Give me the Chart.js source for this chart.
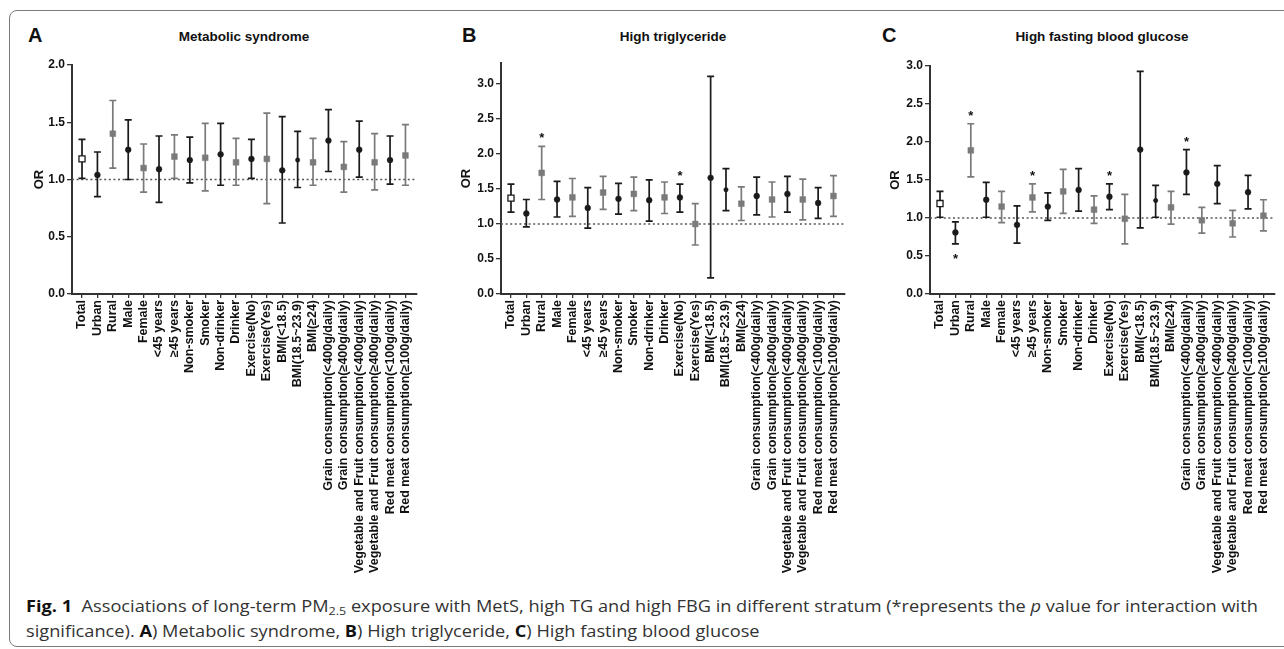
<!DOCTYPE html>
<html>
<head>
<meta charset="utf-8">
<script src="https://cdn.jsdelivr.net/npm/chart.js@4.4.0/dist/chart.umd.min.js"></script>
<style>
body{margin:0;width:1284px;height:649px;background:#fff;overflow:hidden;position:relative;font-family:"Liberation Sans",Arial,sans-serif}
.frame{position:absolute;left:9px;top:10px;width:1300px;height:637px;border:1.5px solid #7a7a7a;border-radius:8px;box-sizing:border-box}
.letter{position:absolute;font-weight:bold;font-size:20px;line-height:20px;color:#111}
.ptitle{position:absolute;width:300px;font-weight:bold;font-size:13.5px;line-height:14px;color:#111;text-align:center}
canvas{position:absolute}
.caption{position:absolute;left:26px;top:596px;font-family:"Open Sans",sans-serif;font-size:16px;line-height:20px;color:#333;white-space:nowrap;transform:scaleX(1.137);transform-origin:0 0}
.caption b{color:#111}
</style>
</head>
<body>
<div class="frame"></div>

<div class="letter" style="left:28px;top:25px">A</div>
<div class="ptitle" style="left:94px;top:30px">Metabolic syndrome</div>
<div class="letter" style="left:462px;top:25px">B</div>
<div class="ptitle" style="left:523px;top:30px">High triglyceride</div>
<div class="letter" style="left:882px;top:25px">C</div>
<div class="ptitle" style="left:952px;top:30px">High fasting blood glucose</div>

<canvas id="chartA" width="397" height="529" style="left:28px;top:55px"></canvas>
<canvas id="chartB" width="398" height="531" style="left:455px;top:53px"></canvas>
<canvas id="chartC" width="399" height="528" style="left:884px;top:56px"></canvas>

<div class="caption"><b>Fig. 1</b>&nbsp; Associations of long-term PM<sub style="font-size:11px;vertical-align:-3px">2.5</sub> exposure with MetS, high TG and high FBG in different stratum (*represents the <i>p</i> value for interaction with<br>significance). <b>A</b>) Metabolic syndrome, <b>B</b>) High triglyceride, <b>C</b>) High fasting blood glucose</div>

<script>
// strata (same for all three panels)
const labels = ["Total", "Urban", "Rural", "Male", "Female", "<45 years", "≥45 years",
    "Non-smoker", "Smoker", "Non-drinker", "Drinker", "Exercise(No)", "Exercise(Yes)",
    "BMI(<18.5)", "BMI(18.5~23.9)", "BMI(≥24)",
    "Grain consumption(<400g/daily)", "Grain consumption(≥400g/daily)",
    "Vegetable and Fruit consumption(<400g/daily)", "Vegetable and Fruit consumption(≥400g/daily)",
    "Red meat consumption(<100g/daily)", "Red meat consumption(≥100g/daily)"];

// A) Metabolic syndrome
const orA   = [1.18, 1.04, 1.40, 1.26, 1.10, 1.09, 1.20, 1.17, 1.19, 1.22, 1.15, 1.18, 1.18, 1.08, 1.17, 1.15, 1.34, 1.11, 1.26, 1.15, 1.17, 1.21];
const lowA  = [1.01, 0.85, 1.10, 1.00, 0.89, 0.80, 1.01, 0.97, 0.90, 0.95, 0.95, 1.01, 0.79, 0.62, 0.93, 0.95, 1.07, 0.89, 1.02, 0.91, 0.96, 0.95];
const highA = [1.35, 1.24, 1.69, 1.52, 1.31, 1.38, 1.39, 1.37, 1.49, 1.49, 1.36, 1.35, 1.58, 1.55, 1.42, 1.36, 1.61, 1.33, 1.51, 1.40, 1.38, 1.48];
const starA = [];

// B) High triglyceride
const orB   = [1.37, 1.15, 1.73, 1.35, 1.38, 1.23, 1.45, 1.36, 1.43, 1.34, 1.38, 1.38, 1.00, 1.66, 1.49, 1.29, 1.40, 1.35, 1.43, 1.35, 1.30, 1.40];
const lowB  = [1.17, 0.96, 1.35, 1.10, 1.11, 0.94, 1.21, 1.14, 1.19, 1.04, 1.15, 1.17, 0.70, 0.23, 1.19, 1.05, 1.13, 1.10, 1.17, 1.06, 1.08, 1.11];
const highB = [1.57, 1.35, 2.11, 1.61, 1.65, 1.52, 1.68, 1.58, 1.67, 1.63, 1.60, 1.57, 1.29, 3.11, 1.79, 1.53, 1.67, 1.60, 1.68, 1.64, 1.52, 1.69];
const starB = [{i: 2, side: "up"}, {i: 11, side: "up"}];

// C) High fasting blood glucose
const orC   = [1.19, 0.81, 1.89, 1.24, 1.15, 0.91, 1.27, 1.15, 1.35, 1.37, 1.11, 1.28, 0.99, 1.90, 1.23, 1.14, 1.60, 0.97, 1.45, 0.93, 1.34, 1.03];
const lowC  = [1.01, 0.66, 1.54, 1.01, 0.94, 0.67, 1.08, 0.97, 1.06, 1.09, 0.93, 1.11, 0.66, 0.87, 1.01, 0.92, 1.31, 0.80, 1.19, 0.75, 1.12, 0.83];
const highC = [1.35, 0.95, 2.24, 1.47, 1.35, 1.16, 1.45, 1.33, 1.64, 1.65, 1.29, 1.45, 1.31, 2.93, 1.43, 1.35, 1.90, 1.14, 1.69, 1.10, 1.56, 1.24];
const starC = [{i: 1, side: "down"}, {i: 2, side: "up"}, {i: 6, side: "up"}, {i: 11, side: "up"}, {i: 16, side: "up"}];

const yTicksA = [0, 0.5, 1.0, 1.5, 2.0];
const yTicksB = [0, 0.5, 1.0, 1.5, 2.0, 2.5, 3.0];
const yTicksC = [0, 0.5, 1.0, 1.5, 2.0, 2.5, 3.0];

// marker look per stratum: open square for total, black dots and grey squares alternate
const markerKinds = ["open", "dot", "sq", "dot", "sq", "dot", "sq", "dot", "sq", "dot", "sq", "dot", "sq",
    "dot", "small", "sq", "dot", "sq", "dot", "sq", "dot", "sq"];
const black = "#1a1a1a";
const grey = "#7a7a7a";
const font = "'Liberation Sans', Arial, sans-serif";

const errorBars = {
    id: "errorBars",
    beforeDatasetsDraw(chart, args, opts) {
        const ctx = chart.ctx;
        const area = chart.chartArea;
        const x = chart.scales.x, y = chart.scales.y;
        ctx.save();
        // reference line at OR = 1
        const y1 = y.getPixelForValue(1);
        ctx.strokeStyle = "#555";
        ctx.lineWidth = 1.4;
        ctx.setLineDash([2, 2.6]);
        ctx.beginPath();
        ctx.moveTo(area.left, y1);
        ctx.lineTo(area.right, y1);
        ctx.stroke();
        ctx.setLineDash([]);
        opts.low.forEach((lo, i) => {
            const px = x.getPixelForValue(i);
            const yl = y.getPixelForValue(lo);
            const yh = y.getPixelForValue(opts.high[i]);
            ctx.strokeStyle = markerKinds[i] == "sq" ? grey : black;
            ctx.lineWidth = 1.7;
            ctx.beginPath();
            ctx.moveTo(px, yl); ctx.lineTo(px, yh);
            ctx.moveTo(px - 3.5, yl); ctx.lineTo(px + 3.5, yl);
            ctx.moveTo(px - 3.5, yh); ctx.lineTo(px + 3.5, yh);
            ctx.stroke();
        });
        ctx.restore();
    },
    afterDatasetsDraw(chart, args, opts) {
        const ctx = chart.ctx;
        const x = chart.scales.x, y = chart.scales.y;
        ctx.save();
        ctx.fillStyle = "#111";
        ctx.font = "bold 13px " + font;
        ctx.textAlign = "center";
        ctx.textBaseline = "alphabetic";
        opts.stars.forEach(s => {
            const px = x.getPixelForValue(s.i);
            if (s.side == "up") {
                ctx.fillText("*", px, y.getPixelForValue(opts.high[s.i]) - 4);
            } else {
                ctx.fillText("*", px, y.getPixelForValue(opts.low[s.i]) + 19);
            }
        });
        ctx.restore();
    }
};

function makeChart(id, values, low, high, stars, yTicks, yMax, yWidth) {
    const ctx = document.getElementById(id).getContext("2d");
    return new Chart(ctx, {
        type: "scatter",
        data: {
            datasets: [{
                data: values.map((v, i) => ({x: i, y: v})),
                pointStyle: markerKinds.map(k => (k == "open" || k == "sq") ? "rect" : "circle"),
                pointRadius: markerKinds.map(k => k == "open" ? 4.3 : k == "sq" ? 4.1 : k == "small" ? 2.2 : 2.9),
                backgroundColor: markerKinds.map(k => k == "open" ? "#fff" : k == "sq" ? grey : black),
                borderColor: markerKinds.map(k => k == "sq" ? grey : black),
                borderWidth: markerKinds.map(k => k == "open" ? 1.3 : 0.5),
            }]
        },
        options: {
            responsive: false,
            animation: false,
            events: [],
            layout: {padding: {top: 10, right: 8, bottom: 0, left: 0}},
            plugins: {
                legend: {display: false},
                tooltip: {enabled: false},
                errorBars: {low: low, high: high, stars: stars}
            },
            scales: {
                x: {
                    type: "linear",
                    min: -0.65,
                    max: 21.75,
                    afterBuildTicks: s => { s.ticks = labels.map((_, i) => ({value: i})); },
                    afterFit: s => { s.height = 290; },
                    border: {color: "#333", width: 2},
                    grid: {drawOnChartArea: false, tickLength: 4, color: "#333", lineWidth: 1.3},
                    ticks: {
                        autoSkip: false, maxRotation: 90, minRotation: 90, padding: 2,
                        color: "#111", font: {family: font, size: 12.5, weight: "bold"},
                        callback: v => labels[v]
                    }
                },
                y: {
                    min: 0,
                    max: yMax,
                    afterBuildTicks: s => { s.ticks = yTicks.map(v => ({value: v})); },
                    afterFit: s => { s.width = yWidth; },
                    border: {color: "#333", width: 2},
                    grid: {drawOnChartArea: false, tickLength: 5, color: "#333", lineWidth: 1.3},
                    ticks: {
                        padding: 2, color: "#111", font: {family: font, size: 12, weight: "bold"},
                        callback: v => v.toFixed(1)
                    },
                    title: {
                        display: true, text: "OR", color: "#111",
                        font: {family: font, size: 13, weight: "bold"},
                        padding: {top: 4, bottom: 0}
                    }
                }
            }
        },
        plugins: [errorBars]
    });
}

makeChart("chartA", orA, lowA, highA, starA, yTicksA, 2.0, 44);
makeChart("chartB", orB, lowB, highB, starB, yTicksB, 3.3, 46);
makeChart("chartC", orC, lowC, highC, starC, yTicksC, 3.0, 46);
</script>
</body>
</html>
